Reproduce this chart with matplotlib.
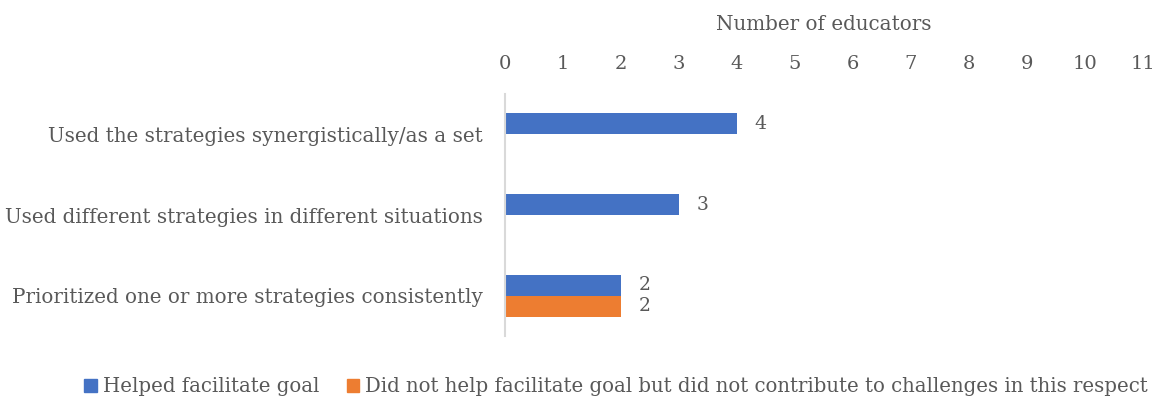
import matplotlib
matplotlib.use("Agg")
import matplotlib.pyplot as plt
import numpy as np

categories = [
    "Used the strategies synergistically/as a set",
    "Used different strategies in different situations",
    "Prioritized one or more strategies consistently",
]
helped = [4, 3, 2]
not_helped = [None, None, 2]
series_names = [
    "Helped facilitate goal",
    "Did not help facilitate goal but did not contribute to challenges in this respect",
]
x_ticks = list(range(0, 12))
x_label = "Number of educators"

BLUE = "#4472C4"
ORANGE = "#ED7D31"
TEXT = "#595959"
GRID = "#D9D9D9"

plt.rcParams["font.family"] = ["DejaVu Serif"]

fig = plt.figure(figsize=(11.6, 4.01), dpi=100)
ax = fig.add_axes([505 / 1160, 1 - 336 / 401, (1143 - 505) / 1160, (336 - 94) / 401])

y = np.arange(len(categories))
h = 0.26
blue_vals = [v if v is not None else 0 for v in helped]
orange_vals = [v if v is not None else 0 for v in not_helped]
b1 = ax.barh(y - h / 2, blue_vals, height=h, color=BLUE, edgecolor="none")
b2 = ax.barh(y + h / 2, orange_vals, height=h, color=ORANGE, edgecolor="none")

for bars, vals in ((b1, helped), (b2, not_helped)):
    for rect, v in zip(bars, vals):
        if v is not None:
            ax.text(v + 0.3, rect.get_y() + rect.get_height() / 2, str(v),
                    va="center", ha="left", fontsize=13.5, color=TEXT)

ax.set_xlim(0, 11)
ax.set_ylim(len(categories) - 0.5, -0.5)
ax.set_xticks(x_ticks)
ax.xaxis.tick_top()
ax.xaxis.set_label_position("top")
ax.set_xlabel(x_label, fontsize=14.3, color=TEXT, labelpad=18)
ax.tick_params(axis="x", length=0, pad=15, labelsize=14, labelcolor=TEXT)
ax.set_yticks(y)
ax.set_yticklabels(categories, fontsize=14.3, color=TEXT)
ax.tick_params(axis="y", length=0, pad=16)

for s in ["top", "right", "bottom"]:
    ax.spines[s].set_visible(False)
ax.spines["left"].set_color(GRID)
ax.spines["left"].set_linewidth(1.5)

handles = [plt.Rectangle((0, 0), 1, 1, color=BLUE), plt.Rectangle((0, 0), 1, 1, color=ORANGE)]
fig.legend(handles, series_names, loc="center", bbox_to_anchor=(616 / 1160, 1 - 387 / 401),
           ncol=2, frameon=False, fontsize=14.2, labelcolor=TEXT,
           handlelength=0.65, handleheight=0.65, handletextpad=0.3, columnspacing=1.4)

fig.savefig("out.png", dpi=100)
